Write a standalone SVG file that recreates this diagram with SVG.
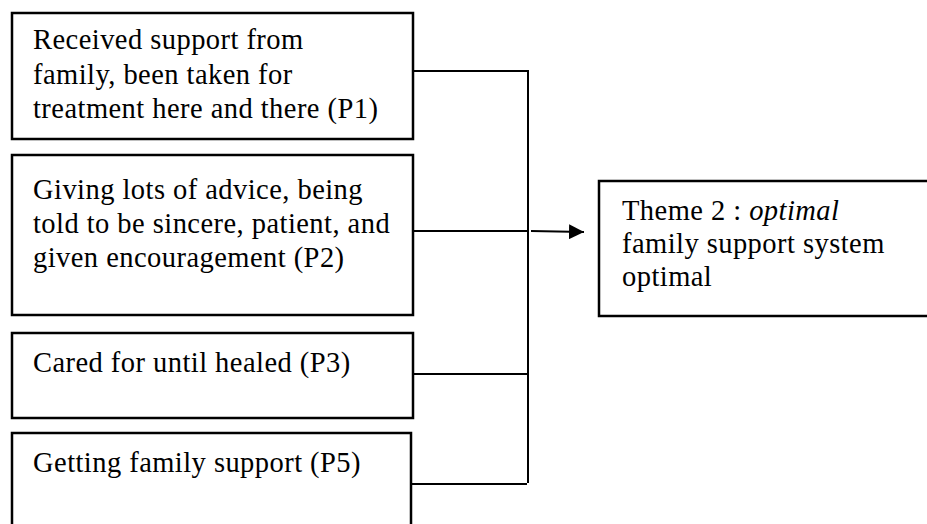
<svg xmlns="http://www.w3.org/2000/svg" width="927" height="524" viewBox="0 0 927 524">
<style>
.box{fill:#fff;stroke:#000;stroke-width:2.5}
.t{font-family:"Liberation Serif","Times New Roman",serif;font-size:28.5px;letter-spacing:0.45px;fill:#000}
.c{fill:none;stroke:#000;stroke-width:2}
</style>
<defs>
<marker id="ah" markerWidth="15" markerHeight="15" refX="15" refY="7.5" orient="auto" markerUnits="userSpaceOnUse" viewBox="0 0 15 15">
<path d="M0,0 L15,7.5 L0,15 z" fill="#000"/>
</marker>
</defs>
<rect width="927" height="524" fill="#fff"/>
<g id="connectors">
<path class="c" d="M413,71 H528 V483"/>
<path class="c" d="M413,231 H528"/>
<path class="c" d="M414,374 H529"/>
<path class="c" d="M411,484 H527"/>
<path class="c" d="M531,231 L584,232" marker-end="url(#ah)"/>
</g>
<g id="p1">
<rect class="box" x="12" y="13" width="401" height="126"/>
<text class="t" x="33" y="49">Received support from</text>
<text class="t" x="33" y="83.5">family, been taken for</text>
<text class="t" x="33" y="118">treatment here and there (P1)</text>
</g>
<g id="p2">
<rect class="box" x="12" y="155" width="401" height="160"/>
<text class="t" x="33" y="199">Giving lots of advice, being</text>
<text class="t" x="33" y="233">told to be sincere, patient, and</text>
<text class="t" x="33" y="267">given encouragement (P2)</text>
</g>
<g id="p3">
<rect class="box" x="12" y="333" width="401" height="85"/>
<text class="t" x="33" y="372">Cared for until healed (P3)</text>
</g>
<g id="p5">
<rect class="box" x="12" y="433" width="399" height="100"/>
<text class="t" x="33" y="472">Getting family support (P5)</text>
</g>
<g id="theme">
<rect class="box" x="599" y="181" width="340" height="135"/>
<text class="t" x="622" y="219.5">Theme 2 : <tspan font-style="italic">optimal</tspan></text>
<text class="t" x="622" y="252.5">family support system</text>
<text class="t" x="622" y="286">optimal</text>
</g>
</svg>
